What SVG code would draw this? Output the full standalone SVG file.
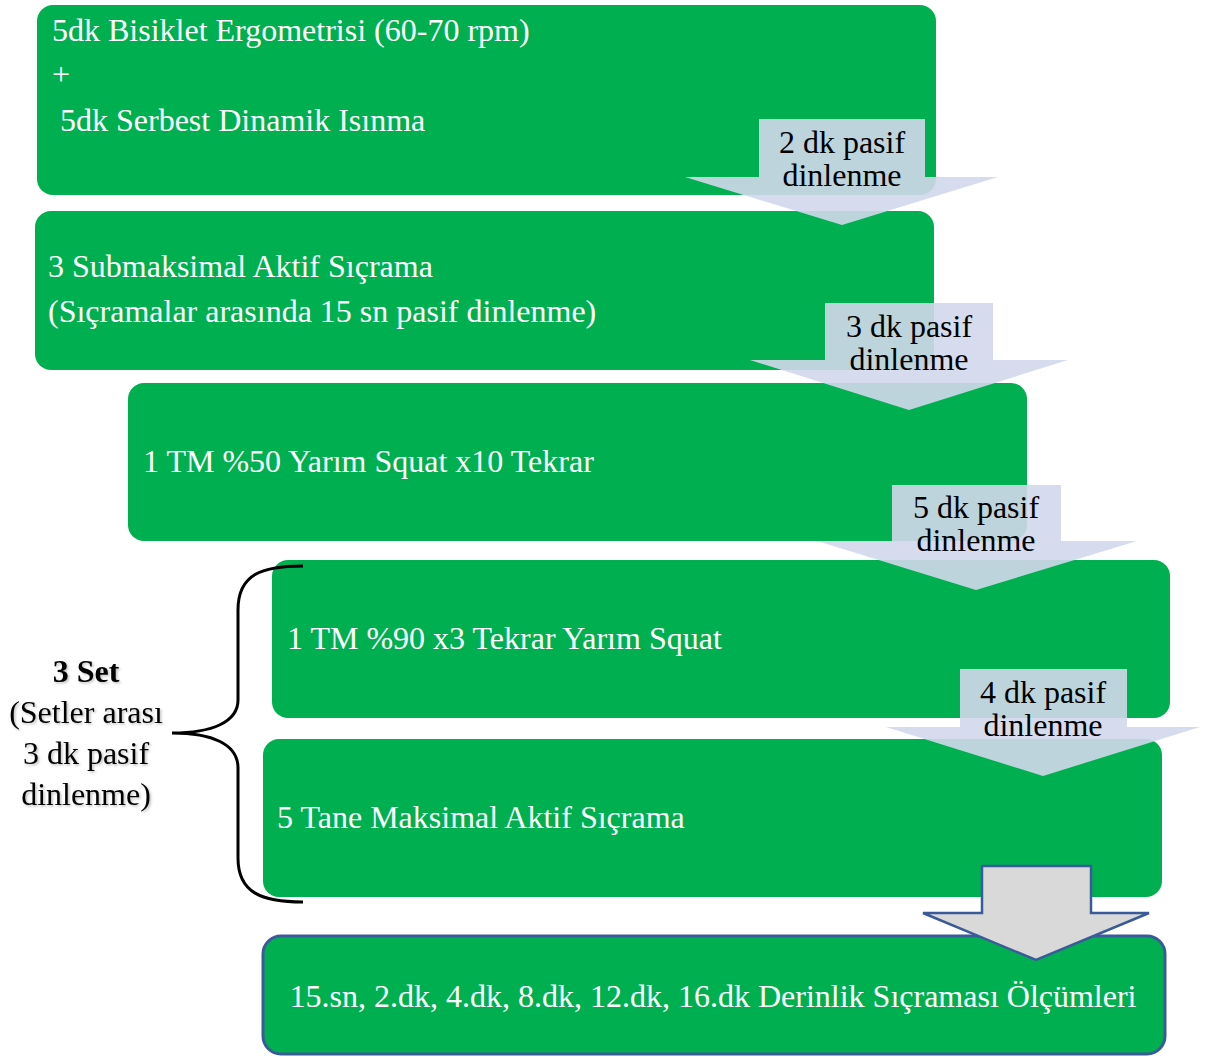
<svg xmlns="http://www.w3.org/2000/svg" width="1209" height="1057" viewBox="0 0 1209 1057">
<style>
.box{fill:#00b050}
.bt{font-family:"Liberation Serif","Times New Roman",serif;font-size:32px;fill:#ffffff}
.at{font-family:"Liberation Serif","Times New Roman",serif;font-size:32px;fill:#000000;text-anchor:middle}
.arr{fill:#d1d8eb;fill-opacity:0.9}
.side{font-family:"Liberation Serif","Times New Roman",serif;font-size:32px;fill:#000000;text-anchor:middle}
</style>
<defs>
<filter id="sh" x="-10%" y="-20%" width="120%" height="140%">
<feDropShadow dx="1.5" dy="1.5" stdDeviation="1" flood-color="#000000" flood-opacity="0.25"/>
</filter>
</defs>
<rect width="1209" height="1057" fill="#ffffff"/>
<g id="n1"><rect class="box" x="37" y="5" width="899" height="190" rx="16"/>
<text class="bt" x="52" y="41">5dk Bisiklet Ergometrisi (60-70 rpm)</text>
<text class="bt" x="52" y="85">+</text>
<text class="bt" x="60" y="131">5dk Serbest Dinamik Isınma</text></g>
<g id="n2"><rect class="box" x="35" y="211" width="899" height="159" rx="16"/>
<text class="bt" x="48" y="277">3 Submaksimal Aktif Sıçrama</text>
<text class="bt" x="48" y="322">(Sıçramalar arasında 15 sn pasif dinlenme)</text></g>
<g id="n3"><rect class="box" x="128" y="383" width="899" height="158" rx="16"/>
<text class="bt" x="143" y="472">1 TM %50 Yarım Squat x10 Tekrar</text></g>
<g id="n4"><rect class="box" x="272" y="560" width="898" height="158" rx="16"/>
<text class="bt" x="287" y="649">1 TM %90 x3 Tekrar Yarım Squat</text></g>
<g id="n5"><rect class="box" x="263" y="739" width="899" height="158" rx="16"/>
<text class="bt" x="277" y="828">5 Tane Maksimal Aktif Sıçrama</text></g>
<g id="n6"><rect class="box" x="263" y="936" width="902" height="118" rx="18" stroke="#3a5a9a" stroke-width="3"/>
<text class="bt" x="713" y="1007" text-anchor="middle">15.sn, 2.dk, 4.dk, 8.dk, 12.dk, 16.dk Derinlik Sıçraması Ölçümleri</text></g>
<g id="connectors">
<g id="a1"><path class="arr" d="M759,119 H925 V177 H998 L842,225 L685,177 H759 Z"/>
<text class="at" x="842" y="153">2 dk pasif</text><text class="at" x="842" y="186">dinlenme</text></g>
<g id="a2"><path class="arr" d="M825,303 H993 V360 H1068 L909,410 L750,360 H825 Z"/>
<text class="at" x="909" y="337">3 dk pasif</text><text class="at" x="909" y="370">dinlenme</text></g>
<g id="a3"><path class="arr" d="M892,485 H1061 V541 H1137 L976,590 L817,541 H892 Z"/>
<text class="at" x="976" y="518">5 dk pasif</text><text class="at" x="976" y="551">dinlenme</text></g>
<g id="a4"><path class="arr" d="M960,669 H1127 V727 H1200 L1043,776 L886,727 H960 Z"/>
<text class="at" x="1043" y="703">4 dk pasif</text><text class="at" x="1043" y="736">dinlenme</text></g>
<path id="a5" d="M982,866 H1091 V913 H1149 L1036,960 L923,913 H982 Z" fill="#d9d9d9" stroke="#3a5a9a" stroke-width="2.5" stroke-linejoin="miter"/>
</g>
<g id="brace">
<path d="M303,566 C262,566 238,574 238,610 L238,700 C238,722 212,733 172,733 C212,733 238,744 238,768 L238,858 C238,893 262,902 303,902" fill="none" stroke="#000000" stroke-width="3"/>
<g filter="url(#sh)">
<text class="side" x="86" y="682" font-weight="bold">3 Set</text>
<text class="side" x="86" y="723">(Setler arası</text>
<text class="side" x="86" y="764">3 dk pasif</text>
<text class="side" x="86" y="805">dinlenme)</text>
</g>
</g>
</svg>
